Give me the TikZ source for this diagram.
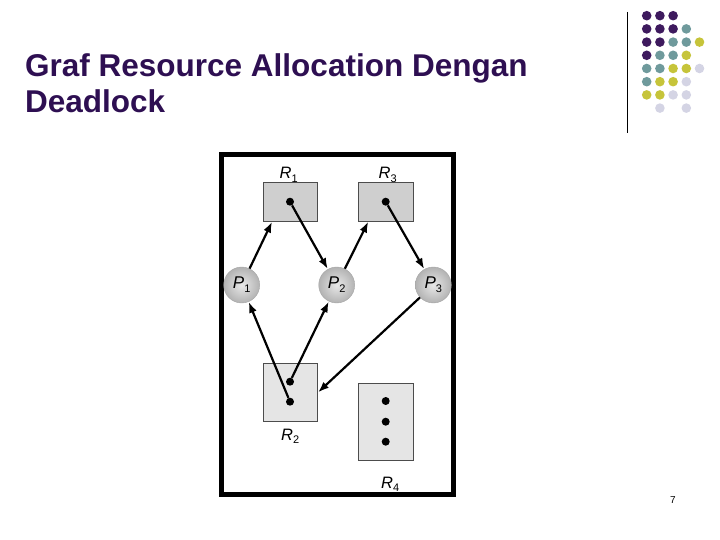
\documentclass[tikz,border=0pt]{standalone}
\usepackage{fontspec}
\setmainfont{Liberation Sans}
\usetikzlibrary{arrows.meta}

\definecolor{titlepurple}{HTML}{2E0F52}
\definecolor{dotpurple}{HTML}{3E1A5E}
\definecolor{dotteal}{HTML}{6F9A9C}
\definecolor{dotyellow}{HTML}{C6C43A}
\definecolor{dotlav}{HTML}{D4D4E4}

\newcommand{\lbl}[2]{\textit{#1}\raisebox{-0.45ex}{\fontsize{11}{11}\selectfont #2}}

\tikzset{
  res/.style={draw=black!70, line width=0.8pt, inner sep=0pt},
  proc/.style={circle, minimum size=36pt, inner sep=0pt, draw=gray!70,
    inner color=gray!18, outer color=gray!60, font=\fontsize{17}{17}\selectfont},
  tok/.style={circle, fill=black, inner sep=0pt, minimum size=8pt},
  edge/.style={line width=2.2pt, -{Latex[length=11pt,width=8pt]}},
  rlabel/.style={anchor=base west, inner sep=0pt, font=\fontsize{16.5}{16.5}\selectfont},
}

\begin{document}
\begin{tikzpicture}[x=1pt,y=-1pt]
      \useasboundingbox (0,0) rectangle (720,540);

      % Title
      \node[anchor=base west, align=left, inner sep=0pt, text=titlepurple,
        font=\bfseries\fontsize{31.5}{36}\selectfont] (title) at (25,113)
        {Graf Resource Allocation Dengan\\Deadlock};

      % Corner decoration
      \draw[line width=0.8pt] (627,12) -- (627,133);
      \foreach \c/\r/\col in {0/0/dotpurple, 1/0/dotpurple, 2/0/dotpurple,
          0/1/dotpurple, 1/1/dotpurple, 2/1/dotpurple, 3/1/dotteal,
          0/2/dotpurple, 1/2/dotpurple, 2/2/dotteal, 3/2/dotteal, 4/2/dotyellow,
          0/3/dotpurple, 1/3/dotteal, 2/3/dotteal, 3/3/dotyellow,
          0/4/dotteal, 1/4/dotteal, 2/4/dotyellow, 3/4/dotyellow, 4/4/dotlav,
          0/5/dotteal, 1/5/dotyellow, 2/5/dotyellow, 3/5/dotlav,
          0/6/dotyellow, 1/6/dotyellow, 2/6/dotlav, 3/6/dotlav,
          1/7/dotlav, 3/7/dotlav}
        \fill[\col] (646.7+13.2*\c, 15.7+13.2*\r) circle (4.8pt);

      % Frame
      \draw[line width=4.5pt] (221.5,154.5) rectangle (453.5,494.5);

      % Resources
      \node[res, fill=gray!38, minimum width=54pt, minimum height=39pt] (r1) at (290.5,201.7) {};
      \node[res, fill=gray!38, minimum width=55pt, minimum height=39pt] (r3) at (386.2,201.7) {};
      \node[res, fill=gray!20, minimum width=54pt, minimum height=58pt] (r2) at (290.5,392.5) {};
      \node[res, fill=gray!20, minimum width=55pt, minimum height=77pt] (r4) at (386.2,422.2) {};

      \node[tok] (r1d) at (290,201.7) {};
      \node[tok] (r3d) at (385.7,201.7) {};
      \node[tok] (r2a) at (290,381.7) {};
      \node[tok] (r2b) at (290,401.7) {};
      \node[tok] (r4a) at (385.7,401) {};
      \node[tok] (r4b) at (385.7,421.7) {};
      \node[tok] (r4c) at (385.7,441.7) {};

      \node[rlabel] (r1l) at (279.5,179) {\lbl{R}{1}};
      \node[rlabel] (r3l) at (378.5,179) {\lbl{R}{3}};
      \node[rlabel] (r2l) at (281,440) {\lbl{R}{2}};
      \node[rlabel] (r4l) at (381,488) {\lbl{R}{4}};

      % Processes
      \node[proc] (p1) at (241.7,285) {\lbl{P}{1}};
      \node[proc] (p2) at (336.7,285) {\lbl{P}{2}};
      \node[proc] (p3) at (433.3,285) {\lbl{P}{3}};

      % Edges
      \draw[edge] (p1) -- ([xshift=9pt]r1.south west);
      \draw[edge] (r1d) -- (p2);
      \draw[edge] (p2) -- ([xshift=10pt]r3.south west);
      \draw[edge] (r3d) -- (p3);
      \draw[edge] (r2b) -- (p1);
      \draw[edge] (r2a) -- (p2);
      \draw[edge] (p3) -- (r2.east);

      \node[font=\fontsize{10}{12}\selectfont] (pnum) at (673,500) {7};
\end{tikzpicture}
\end{document}
